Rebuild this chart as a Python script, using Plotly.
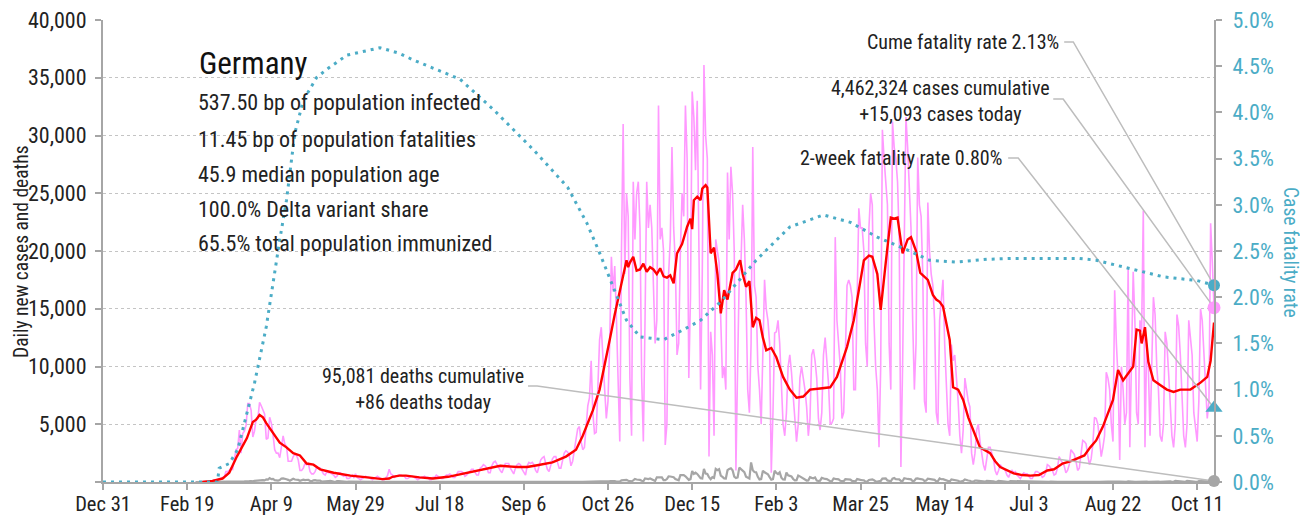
import pandas as pd
import plotly.graph_objects as go

# ---------------- data ----------------
AXIS_START = "2019-12-31"
AXIS_END = "2021-10-21"
SERIES_START = "2020-02-24"   # first day of the daily rows (a Monday)

# daily new cases, thousands, one row per week (Mon..Sun)
cases_k_weeks = [
    [0, 0, 0, 0, 0.02, 0.03, 0.05],
    [0.03, 0.05, 0.05, 0.1, 0.2, 0.2, 0.2],
    [0.3, 0.3, 0.4, 0.4, 0.9, 0.9, 1.0],
    [1.2, 1.1, 1.8, 2.8, 2.9, 4.5, 2.5],
    [4.2, 4.4, 4.9, 6.8, 6.8, 6.2, 3.9],
    [4.4, 5.5, 5.5, 6.9, 6.6, 6.3, 5.9],
    [3.7, 3.8, 5.6, 5.1, 4.1, 2.8, 2.5],
    [2.5, 2.1, 3.0, 4.0, 3.3, 3.1, 1.8],
    [1.8, 1.8, 2.2, 2.4, 2.3, 1.9, 1.0],
    [1.0, 1.2, 1.6, 1.5, 1.6, 0.9, 0.7],
    [0.7, 0.9, 1.3, 1.2, 1.2, 0.9, 0.7],
    [0.6, 0.9, 0.8, 0.8, 0.7, 0.6, 0.4],
    [0.5, 0.8, 0.8, 0.6, 0.5, 0.6, 0.3],
    [0.3, 0.4, 0.6, 0.4, 0.7, 0.4, 0.3],
    [0.2, 0.3, 0.4, 0.5, 0.4, 0.4, 0.3],
    [0.2, 0.3, 0.4, 0.5, 0.4, 0.3, 0.2],
    [0.2, 0.35, 0.55, 1.1, 0.7, 0.6, 0.4],
    [0.5, 0.5, 0.6, 0.6, 0.5, 0.5, 0.3],
    [0.3, 0.4, 0.5, 0.5, 0.4, 0.3, 0.2],
    [0.3, 0.4, 0.4, 0.5, 0.4, 0.4, 0.2],
    [0.2, 0.4, 0.4, 0.6, 0.5, 0.4, 0.3],
    [0.3, 0.5, 0.6, 0.6, 0.7, 0.6, 0.4],
    [0.4, 0.7, 0.9, 0.9, 0.9, 0.8, 0.5],
    [0.6, 0.8, 1.0, 1.1, 1.1, 0.9, 0.6],
    [0.6, 1.2, 1.3, 1.5, 1.4, 1.2, 0.8],
    [0.8, 1.4, 1.7, 1.8, 1.5, 1.3, 1.0],
    [0.8, 1.3, 1.6, 1.6, 1.6, 1.2, 0.9],
    [0.7, 1.2, 1.5, 1.6, 1.5, 1.1, 0.8],
    [0.6, 1.4, 1.7, 1.6, 1.7, 1.5, 1.0],
    [0.8, 1.4, 1.9, 2.1, 2.2, 1.6, 1.1],
    [0.9, 1.5, 2.0, 2.2, 2.2, 1.7, 1.2],
    [1.2, 1.8, 2.5, 2.7, 2.6, 2.3, 1.4],
    [1.8, 2.6, 3.7, 4.6, 4.8, 3.5, 2.8],
    [3.0, 4.9, 6.6, 7.3, 10.5, 6.0, 4.2],
    [4.3, 8.0, 12.3, 13.4, 11.2, 8.1, 5.5],
    [7.0, 12.0, 19.5, 16.5, 18.7, 14.2, 9.5],
    [3.5, 20.0, 31.0, 18.0, 25.0, 23.0, 9.0],
    [4.0, 26.0, 21.0, 25.0, 26.0, 22.0, 9.0],
    [3.5, 14.0, 26.0, 22.0, 24.0, 22.0, 16.5],
    [12.0, 14.0, 32.6, 21.0, 22.0, 20.0, 3.2],
    [5.0, 18.0, 21.0, 29.0, 22.0, 19.0, 11.0],
    [12.0, 20.0, 25.0, 23.0, 32.6, 28.0, 9.0],
    [16.0, 33.8, 31.6, 27.0, 33.0, 22.0, 8.0],
    [18.0, 36.1, 30.0, 28.0, 2.2, 13.0, 11.0],
    [4.0, 21.0, 20.0, 19.0, 14.0, 9.0, 10.0],
    [8.0, 26.8, 21.0, 27.3, 25.0, 20.0, 1.0],
    [10.0, 18.0, 19.0, 24.0, 21.0, 16.0, 8.0],
    [6.0, 12.0, 29.0, 17.0, 16.0, 10.0, 8.0],
    [5.0, 12.0, 17.5, 15.0, 14.0, 12.0, 0.8],
    [6.0, 12.9, 13.0, 14.0, 12.0, 9.0, 5.0],
    [4.0, 6.0, 10.0, 11.0, 9.5, 7.5, 5.0],
    [3.5, 5.0, 9.0, 10.0, 9.0, 8.0, 6.5],
    [4.0, 5.5, 11.0, 11.5, 10.5, 9.0, 5.5],
    [4.5, 6.0, 11.0, 12.5, 10.5, 8.5, 5.0],
    [5.1, 5.5, 21.2, 14.0, 12.0, 10.0, 5.5],
    [6.0, 11.0, 17.0, 17.5, 17.0, 16.0, 8.0],
    [8.0, 16.0, 23.7, 22.0, 22.0, 20.0, 12.0],
    [10.0, 22.0, 25.0, 24.0, 14.0, 10.0, 8.0],
    [3.0, 10.0, 30.5, 28.0, 26.0, 24.0, 12.0],
    [8.0, 31.2, 29.0, 28.0, 26.0, 21.0, 1.3],
    [10.0, 21.0, 31.6, 29.0, 25.0, 22.0, 14.0],
    [8.0, 12.0, 28.1, 24.0, 23.0, 18.0, 7.0],
    [6.0, 24.2, 20.0, 18.0, 17.0, 14.0, 6.0],
    [5.0, 14.0, 16.0, 17.5, 12.0, 8.0, 5.0],
    [4.0, 11.9, 10.5, 11.0, 9.0, 7.0, 4.0],
    [2.5, 4.5, 9.0, 8.0, 7.0, 6.5, 2.5],
    [1.5, 2.5, 4.5, 5.0, 3.5, 2.5, 1.5],
    [1.0, 2.0, 3.0, 3.0, 2.5, 2.0, 1.0],
    [0.6, 1.0, 1.5, 1.3, 1.1, 1.0, 0.6],
    [0.4, 0.8, 1.0, 0.8, 0.9, 0.6, 0.4],
    [0.3, 0.6, 0.8, 0.7, 0.7, 0.5, 0.3],
    [0.3, 0.6, 0.9, 0.9, 0.8, 0.7, 0.4],
    [0.5, 0.8, 1.5, 1.4, 1.2, 1.0, 0.6],
    [0.7, 1.2, 2.2, 1.9, 1.7, 1.4, 0.8],
    [1.0, 1.5, 2.8, 2.6, 2.4, 1.8, 1.0],
    [1.2, 2.2, 3.6, 3.5, 3.3, 2.3, 1.5],
    [2.0, 3.2, 5.6, 5.5, 5.0, 3.5, 2.2],
    [3.0, 4.0, 9.5, 9.0, 8.0, 5.0, 3.5],
    [16.6, 12.0, 9.0, 1.9, 10.0, 8.0, 5.0],
    [6.0, 18.6, 3.0, 12.0, 18.2, 14.0, 6.0],
    [5.0, 14.0, 13.0, 23.5, 3.0, 12.0, 10.0],
    [4.0, 10.0, 16.0, 14.5, 10.0, 8.0, 4.0],
    [3.5, 5.0, 13.0, 12.0, 9.5, 7.0, 4.0],
    [3.0, 5.0, 14.5, 13.5, 11.0, 7.0, 4.0],
    [3.0, 5.0, 14.0, 12.5, 11.0, 6.0, 4.5],
    [3.5, 7.0, 15.0, 14.0, 11.0, 8.0, 5.5],
    [7.0, 22.4, 19.0, 15.093],
]

# daily deaths, one row per week (Mon..Sun)
deaths_weeks = [
    [0, 0, 0, 0, 0, 0, 0], [0, 0, 0, 0, 0, 0, 0], [2, 0, 1, 1, 2, 5, 4],
    [4, 5, 18, 15, 24, 27, 26], [31, 49, 67, 49, 69, 87, 58],
    [104, 130, 149, 140, 168, 169, 140], [226, 206, 333, 246, 266, 160, 131],
    [126, 170, 300, 315, 299, 242, 184], [110, 194, 281, 215, 227, 179, 110],
    [150, 202, 165, 156, 193, 94, 74], [139, 165, 123, 147, 118, 26, 54],
    [63, 101, 77, 93, 33, 33, 10], [83, 72, 57, 26, 29, 39, 10],
    [45, 47, 39, 47, 39, 24, 2], [13, 29, 22, 30, 29, 10, 11],
    [6, 27, 16, 9, 10, 22, 3], [3, 10, 17, 15, 25, 17, 0],
    [6, 14, 11, 16, 8, 3, 0], [12, 9, 12, 6, 12, 7, 1],
    [2, 6, 13, 6, 4, 4, 1], [1, 6, 9, 5, 4, 6, 1], [1, 3, 7, 3, 3, 3, 0],
    [2, 9, 6, 6, 7, 4, 0], [1, 4, 7, 6, 9, 7, 0], [0, 4, 6, 9, 8, 8, 0],
    [1, 4, 11, 8, 9, 2, 0], [1, 3, 4, 10, 4, 7, 0], [1, 4, 5, 5, 11, 4, 1],
    [2, 5, 6, 9, 5, 3, 1], [2, 9, 3, 4, 5, 5, 0], [3, 13, 9, 13, 4, 11, 1],
    [3, 12, 13, 11, 12, 5, 3], [6, 16, 16, 13, 12, 10, 4],
    [7, 13, 33, 28, 24, 20, 8], [13, 40, 37, 28, 39, 24, 12],
    [27, 71, 86, 92, 81, 36, 19], [29, 149, 147, 163, 183, 103, 60],
    [56, 145, 261, 217, 214, 178, 107], [64, 305, 251, 260, 305, 254, 138],
    [90, 410, 389, 426, 394, 158, 158], [255, 487, 479, 440, 412, 255, 181],
    [147, 590, 600, 598, 496, 321, 188], [250, 952, 698, 814, 698, 464, 321],
    [300, 1129, 733, 697, 410, 240, 418], [350, 1128, 1019, 1113, 553, 448, 314],
    [300, 1019, 1129, 1188, 1011, 465, 347], [400, 1244, 1113, 1017, 850, 465, 348],
    [300, 1700, 1013, 859, 839, 446, 220], [250, 982, 839, 786, 675, 420, 197],
    [240, 979, 786, 692, 839, 378, 215], [211, 813, 574, 532, 491, 263, 137],
    [160, 558, 487, 394, 371, 211, 126], [140, 418, 360, 315, 385, 122, 90],
    [115, 359, 286, 264, 252, 160, 75], [65, 300, 266, 240, 228, 106, 60],
    [62, 238, 227, 195, 207, 90, 38], [50, 250, 248, 183, 157, 141, 39],
    [40, 180, 201, 232, 157, 45, 43], [51, 90, 298, 296, 306, 137, 66],
    [62, 294, 342, 246, 265, 225, 94], [83, 331, 265, 264, 245, 225, 73],
    [107, 294, 317, 267, 253, 214, 91], [121, 284, 264, 247, 227, 190, 60],
    [78, 315, 238, 249, 183, 125, 42], [36, 226, 212, 140, 130, 110, 20],
    [27, 96, 225, 157, 129, 108, 24], [28, 122, 112, 98, 48, 70, 35],
    [29, 102, 103, 99, 83, 52, 18], [14, 93, 94, 84, 76, 40, 14],
    [10, 76, 74, 59, 68, 27, 11], [10, 65, 53, 57, 35, 21, 3],
    [9, 42, 38, 31, 32, 17, 3], [4, 22, 23, 18, 29, 12, 4],
    [4, 21, 19, 25, 23, 12, 2], [3, 25, 24, 21, 19, 11, 3],
    [5, 14, 24, 25, 17, 14, 4], [4, 23, 19, 25, 22, 13, 3],
    [4, 25, 22, 26, 25, 16, 4], [10, 49, 38, 44, 30, 17, 6],
    [14, 52, 56, 53, 34, 23, 7], [12, 81, 85, 66, 56, 42, 11],
    [14, 70, 64, 69, 68, 35, 15], [17, 79, 72, 60, 70, 48, 17],
    [16, 88, 70, 61, 73, 34, 10], [19, 88, 60, 66, 63, 37, 13],
    [8, 80, 78, 65, 63, 44, 12], [27, 66, 92, 86],
]

# 7-day average of cases (thousands), read at days since Dec 31, 2019
avg_days = [59, 65, 71, 75, 79.5, 85.5, 89, 91, 93, 95, 97, 101, 105, 109, 113, 117,
            121, 125, 129, 137, 147, 157, 166, 170, 172, 176, 180, 188, 196, 205, 216,
            225, 236, 246, 252, 258, 267, 275, 281, 285, 291, 295, 298, 301, 304, 307,
            309, 311, 312, 313, 315, 317, 319, 321, 323, 325, 327, 329, 331, 333, 335,
            337, 339, 340, 341, 344, 347, 349, 350, 351, 353, 355, 356, 358, 359, 361,
            363, 365, 367, 369, 371, 374, 376, 378.5, 380, 382, 384, 386, 388, 390,
            392, 394, 397, 400, 402, 404, 408, 412, 416, 420, 426, 432, 436, 442, 446,
            449, 452, 455, 457, 460, 462, 465, 468, 470, 472, 475, 478, 480, 483,
            485.5, 490, 493, 495, 497, 499, 503, 505, 508, 511, 514, 517, 521, 527,
            530, 533, 537, 541, 546, 551, 556, 561, 565, 570, 575, 580, 583, 586.5,
            590, 594, 597, 600, 601, 603, 606, 609, 612, 614, 616, 617, 619, 621, 624,
            628, 632, 636, 640, 646, 652, 656, 658, 660]
avg_k = [0.0, 0.1, 0.3, 0.8, 2.2, 3.8, 5.2, 5.4, 5.8, 5.6, 5.1, 4.3, 3.4, 3.0, 2.5,
         2.3, 1.6, 1.5, 1.1, 0.8, 0.55, 0.4, 0.25, 0.3, 0.45, 0.55, 0.55, 0.4, 0.3, 0.45,
         0.8, 1.1, 1.4, 1.3, 1.3, 1.45, 1.7, 2.2, 2.8, 4.0, 6.2, 8.0, 10.0, 12.3, 14.5,
         16.6, 18.0, 19.2, 18.6, 19.0, 19.5, 18.3, 18.4, 18.9, 18.2, 18.6, 18.4, 18.0,
         18.5, 17.8, 17.7, 17.9, 17.2, 18.8, 19.8, 20.6, 22.1, 22.8, 21.9, 24.4, 24.7,
         24.4, 25.4, 25.7, 25.5, 19.8, 20.3, 18.0, 14.6, 16.6, 15.8, 18.1, 18.4, 19.2,
         18.0, 16.9, 17.4, 13.4, 14.2, 14.0, 12.5, 11.4, 11.6, 10.8, 9.9, 9.1, 8.0, 7.3,
         7.4, 8.0, 8.1, 8.2, 9.1, 11.7, 14.0, 16.5, 19.2, 19.6, 19.5, 18.0, 14.9, 19.0,
         22.9, 22.8, 22.9, 19.8, 21.0, 21.2, 20.0, 18.1, 17.5, 16.2, 15.8, 15.6, 15.2,
         12.3, 8.2, 8.0, 7.1, 5.6, 4.5, 3.0, 2.5, 1.8, 1.3, 1.0, 0.75, 0.6, 0.55, 0.6,
         1.0, 1.1, 1.6, 1.8, 2.1, 2.3, 3.0, 3.6, 4.8, 5.9, 7.1, 8.0, 9.7, 8.8, 9.4, 10.0,
         13.2, 13.1, 12.0, 13.4, 10.4, 8.8, 8.4, 8.0, 7.8, 8.0, 8.0, 8.6, 9.1, 10.5, 13.8]

# cumulative case fatality rate (%), read at days since Dec 31, 2019
cfr_days = [0, 68, 69, 75, 80, 85, 90, 97, 101.6, 105, 109, 114, 119, 127, 134, 145,
            164.6, 176, 184, 212, 232, 256, 276, 287.5, 295, 303, 311, 319, 333, 345,
            355, 368, 388, 408, 428, 444, 460, 478, 491, 507, 525, 541, 580, 590, 610,
            630, 650, 660]
cfr_pct = [0, 0, 0.15, 0.2, 0.35, 0.7, 1.07, 1.68, 2.25, 2.62, 3.05, 3.78, 4.13, 4.38,
           4.48, 4.62, 4.70, 4.64, 4.57, 4.36, 4.03, 3.59, 3.19, 2.80, 2.48, 2.11, 1.75,
           1.57, 1.54, 1.65, 1.75, 1.97, 2.40, 2.76, 2.89, 2.81, 2.65, 2.51, 2.40, 2.38,
           2.41, 2.42, 2.42, 2.40, 2.31, 2.22, 2.18, 2.13]

left_ticks = [0, 5000, 10000, 15000, 20000, 25000, 30000, 35000, 40000]

country = "Germany"
stats_lines = ["537.50 bp of population infected",
               "11.45 bp of population fatalities",
               "45.9 median population age",
               "100.0% Delta variant share",
               "65.5% total population immunized"]
cum_cases = 4462324
today_cases = 15093
cum_deaths = 95081
today_deaths = 86
cume_cfr = 2.13
two_week_cfr = 0.80

# ---------------- build ----------------
base = pd.Timestamp(AXIS_START)
def d(days):
    return base + pd.to_timedelta(days, unit="D")

cases = [v * 1000 for row in cases_k_weeks for v in row]
deaths = [v for row in deaths_weeks for v in row]
series_dates = pd.date_range(SERIES_START, periods=len(cases), freq="D")
death_dates = pd.date_range(SERIES_START, periods=len(deaths), freq="D")
avg = [v * 1000 for v in avg_k]
last = pd.Timestamp(AXIS_END)

FONT = "Liberation Sans Narrow, Roboto Condensed, Arial Narrow, DejaVu Sans Condensed, sans-serif"
PINK = "#FF99FF"
RED = "#FF0000"
GRAY = "#A6A6A6"
TEAL = "#4BACC6"
LEAD = "#BDBDBD"
TXT = "#222222"
Y_PER_PCT = 40000 / 5.0

# page geometry: the html body has an 8px default margin
OFF = 8
PAGE_W, PAGE_H = 1308, 523
# plot-area edges in screen pixels
L, R, T, B = 103, 1214, 20, 482
def px(xp):
    return (xp - L) / (R - L)
def py(yp):
    return (B - yp) / (B - T)

fig = go.Figure()
fig.add_trace(go.Scatter(x=series_dates, y=cases, mode="lines",
                         line=dict(color=PINK, width=1.6), hoverinfo="skip"))
fig.add_trace(go.Scatter(x=death_dates, y=deaths, mode="lines",
                         line=dict(color=GRAY, width=2.2), hoverinfo="skip"))
fig.add_trace(go.Scatter(x=d(pd.Series(avg_days)), y=avg, mode="lines",
                         line=dict(color=RED, width=2.4), hoverinfo="skip"))
fig.add_trace(go.Scatter(x=d(pd.Series(cfr_days)), y=cfr_pct, mode="lines", yaxis="y2",
                         line=dict(color=TEAL, width=3, dash="3px,5px"), hoverinfo="skip"))

# leader lines (start points in data space, end at last values)
def leader(x0, x1, y0, y_end):
    fig.add_trace(go.Scatter(x=[d(x0), d(x1), last], y=[y0, y0, y_end], mode="lines",
                             line=dict(color=LEAD, width=1.5), hoverinfo="skip",
                             cliponaxis=False))

leader(571.0, 576.4, 38100, cume_cfr * Y_PER_PCT)
leader(564.5, 570.4, 33160, today_cases)
leader(537.7, 543.7, 28050, two_week_cfr * Y_PER_PCT)
leader(252.5, 257.9, 8310, today_deaths)

# end markers
fig.add_trace(go.Scatter(x=[last], y=[today_deaths], mode="markers", cliponaxis=False,
                         marker=dict(color=GRAY, size=12), hoverinfo="skip"))
fig.add_trace(go.Scatter(x=[last], y=[today_cases], mode="markers", cliponaxis=False,
                         marker=dict(color=PINK, size=13), hoverinfo="skip"))
fig.add_trace(go.Scatter(x=[last], y=[cume_cfr], yaxis="y2", mode="markers",
                         cliponaxis=False,
                         marker=dict(color=TEAL, size=12), hoverinfo="skip"))
fig.add_trace(go.Scatter(x=[last], y=[two_week_cfr], yaxis="y2", mode="markers",
                         cliponaxis=False,
                         marker=dict(color=TEAL, size=15, symbol="triangle-up"),
                         hoverinfo="skip"))

ann = []
ann.append(dict(text=country, x=px(197), y=py(63), xref="paper", yref="paper",
                xanchor="left", yanchor="middle", showarrow=False,
                font=dict(size=31, color="#111111", family=FONT)))
for txt, yy in zip(stats_lines, [103, 139, 174, 210, 243]):
    ann.append(dict(text=txt, x=px(196), y=py(yy), xref="paper", yref="paper",
                    xanchor="left", yanchor="middle", showarrow=False,
                    font=dict(size=22, color=TXT, family=FONT)))
ann.append(dict(text=f"Cume fatality rate {cume_cfr:.2f}%", x=px(1061), y=py(42),
                xref="paper", yref="paper", xanchor="right", yanchor="middle",
                showarrow=False, font=dict(size=20, color=TXT, family=FONT)))
ann.append(dict(text=f"{cum_cases:,} cases cumulative<br>+{today_cases:,} cases today",
                x=px(940), y=py(101), xref="paper", yref="paper",
                xanchor="center", yanchor="middle", showarrow=False, align="center",
                font=dict(size=20, color=TXT, family=FONT)))
ann.append(dict(text=f"2-week fatality rate {two_week_cfr:.2f}%", x=px(1004), y=py(158),
                xref="paper", yref="paper", xanchor="right", yanchor="middle",
                showarrow=False, font=dict(size=20, color=TXT, family=FONT)))
ann.append(dict(text=f"{cum_deaths:,} deaths cumulative<br>+{today_deaths} deaths today",
                x=px(423), y=py(389), xref="paper", yref="paper",
                xanchor="center", yanchor="middle", showarrow=False, align="center",
                font=dict(size=20, color=TXT, family=FONT)))
# axis titles
ann.append(dict(text="Daily new cases and deaths", x=px(21), y=py(252), xref="paper",
                yref="paper", xanchor="center", yanchor="middle", showarrow=False,
                textangle=-90, font=dict(size=19.5, color=TXT, family=FONT)))
ann.append(dict(text="Case fatality rate", x=px(1291), y=py(252), xref="paper",
                yref="paper", xanchor="center", yanchor="middle", showarrow=False,
                textangle=90, font=dict(size=19.5, color=TEAL, family=FONT)))

fig.update_layout(
    width=PAGE_W - OFF, height=PAGE_H - OFF,
    margin=dict(l=L - OFF, r=PAGE_W - R, t=T - OFF, b=PAGE_H - B, autoexpand=False),
    paper_bgcolor="white", plot_bgcolor="white",
    showlegend=False,
    font=dict(family=FONT, size=20, color=TXT),
    annotations=ann,
    xaxis=dict(type="date", range=[base, last], tick0=base, dtick=50 * 86400000,
               tickformat="%b %-d", showgrid=False, zeroline=False, automargin=False,
               showline=True, linecolor=GRAY, linewidth=2,
               ticks="outside", ticklen=6, tickcolor=GRAY, tickwidth=1.5,
               ticklabelstandoff=-4, ticklabeloverflow="allow",
               tickfont=dict(size=20.5, color=TXT, family=FONT)),
    yaxis=dict(range=[0, 40000], tickmode="array", tickvals=left_ticks,
               ticktext=[f"{v:,}" if v else "" for v in left_ticks], automargin=False,
               showgrid=True, gridcolor="#C4C4C4", griddash="dot", gridwidth=1,
               zeroline=False, showline=True, linecolor=GRAY, linewidth=2,
               ticks="outside", ticklen=6, tickcolor=GRAY, tickwidth=1.5,
               ticklabelstandoff=4, ticklabeloverflow="allow",
               tickfont=dict(size=22, color=TXT, family=FONT)),
    yaxis2=dict(range=[0, 5], dtick=0.5, tickformat=".1f", ticksuffix="%",
                overlaying="y", side="right", showgrid=False, zeroline=False,
                automargin=False, showline=True, linecolor=GRAY, linewidth=2,
                ticks="outside", ticklen=6, tickcolor=GRAY, tickwidth=1.5,
                ticklabelstandoff=6, ticklabeloverflow="allow",
                tickfont=dict(size=22, color=TEAL, family=FONT)),
)

fig.write_html("out.html")
